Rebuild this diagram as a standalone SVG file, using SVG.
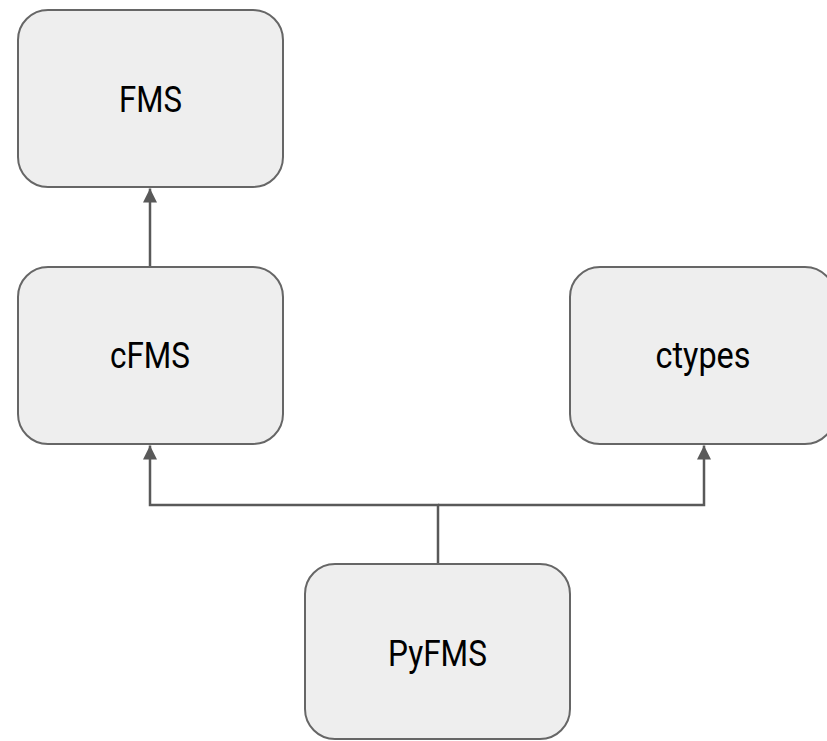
<svg xmlns="http://www.w3.org/2000/svg" width="827" height="741" viewBox="0 0 827 741">
<style>
.box{fill:#eeeeee;stroke:#666666;stroke-width:2}
.lbl{font-family:Roboto,"Liberation Sans",sans-serif;font-size:37px;fill:#000;text-anchor:middle}
.con{fill:none;stroke:#595959;stroke-width:2.5}
</style>
<defs>
<marker id="ah" viewBox="0 0 14 14" refX="14" refY="7" markerWidth="14" markerHeight="14" markerUnits="userSpaceOnUse" orient="auto">
<path d="M0,0 L14,7 L0,14 Z" fill="#595959"/>
</marker>
</defs>
<rect width="827" height="741" fill="#ffffff"/>
<g id="connectors">
<path class="con" d="M150,267 V188.5" marker-end="url(#ah)"/>
<path class="con" d="M438,564 V505 H150 V445.5" marker-end="url(#ah)"/>
<path class="con" d="M438,505 H704 V445.5" marker-end="url(#ah)"/>
</g>
<g id="FMS">
<rect class="box" x="18" y="10" width="265" height="177" rx="30"/>
<text class="lbl" x="150.5" y="112" textLength="63" lengthAdjust="spacingAndGlyphs">FMS</text>
</g>
<g id="cFMS">
<rect class="box" x="18" y="267" width="265" height="177" rx="30"/>
<text class="lbl" x="150" y="367.5" textLength="80" lengthAdjust="spacingAndGlyphs">cFMS</text>
</g>
<g id="ctypes">
<rect class="box" x="570" y="267" width="265" height="177" rx="30"/>
<text class="lbl" x="703" y="367.5" textLength="95" lengthAdjust="spacingAndGlyphs">ctypes</text>
</g>
<g id="PyFMS">
<rect class="box" x="305" y="564" width="265" height="175" rx="30"/>
<text class="lbl" x="437.5" y="665.5" textLength="99" lengthAdjust="spacingAndGlyphs">PyFMS</text>
</g>
</svg>
